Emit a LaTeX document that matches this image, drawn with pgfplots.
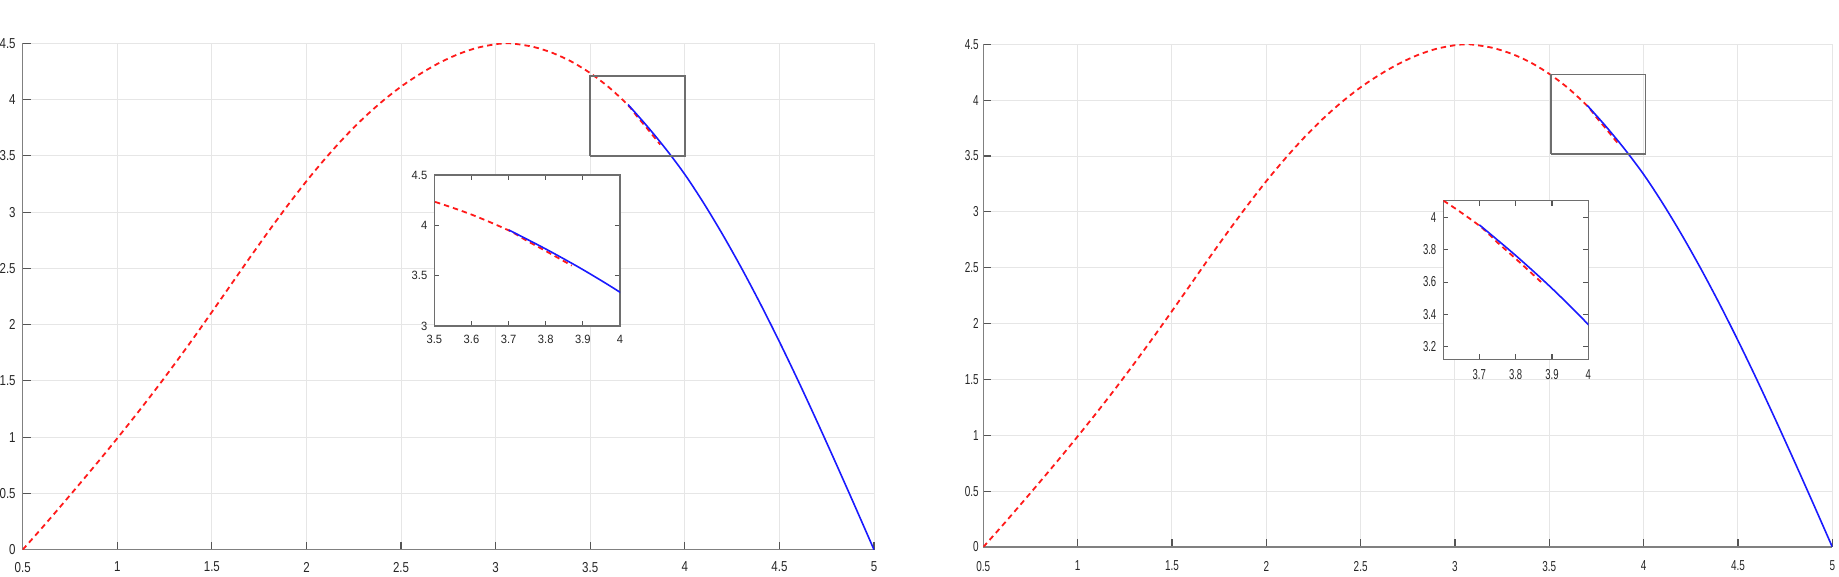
\documentclass[border=0pt]{standalone}
\usepackage{fontspec}
\setmainfont{Liberation Sans}
\newfontfamily\fMainL{Liberation Sans}[FakeStretch=0.8]
\newfontfamily\fInsL{Liberation Sans}[FakeStretch=0.93]
\newfontfamily\fMainR{Liberation Sans}[FakeStretch=0.69]
\newfontfamily\fInsR{Liberation Sans}[FakeStretch=0.66]
\usepackage{pgfplots}
\pgfplotsset{compat=1.18}
\usepackage{pgfplotstable}

\definecolor{cGrid}{HTML}{E6E6E6}
\definecolor{cAxis}{HTML}{808080}
\definecolor{cTick}{HTML}{555555}
\definecolor{cLab}{HTML}{262626}
\definecolor{cBox}{HTML}{6E6E6E}
\definecolor{cRed}{HTML}{FF1A1A}
\definecolor{cBlue}{HTML}{1A1AFF}

% dashed part of the curve
\pgfplotstableread{
x y
0.5 0
0.6 0.19
0.7 0.385
0.8 0.583
0.9 0.784
1.0 0.99
1.1 1.201
1.2 1.418
1.3 1.643
1.4 1.874
1.5 2.112
1.6 2.353
1.7 2.594
1.8 2.830
1.9 3.058
2.0 3.275
2.1 3.477
2.2 3.664
2.3 3.833
2.4 3.983
2.5 4.115
2.6 4.227
2.7 4.324
2.8 4.402
2.9 4.459
3.0 4.492
3.06 4.50
3.1 4.496
3.2 4.468
3.3 4.415
3.4 4.338
3.5 4.235
3.6 4.107
3.7 3.95
3.75 3.845
3.8 3.745
3.87 3.60
}\redtab

% solid part of the curve
\pgfplotstableread{
x y
3.7 3.955
3.8 3.765
3.9 3.56
4.0 3.335
4.1 3.079
4.2 2.800
4.3 2.501
4.4 2.183
4.5 1.848
4.6 1.498
4.7 1.135
4.8 0.763
4.9 0.384
5.0 0
}\bluetab

\pgfplotsset{
  mainax/.style={
    scale only axis, anchor=south west,
    xmin=0.5, xmax=5, ymin=0, ymax=4.5,
    xtick={0.5,1,...,5}, ytick={0,0.5,...,4.5},
    axis x line*=bottom, axis y line*=left,
    axis line style={cAxis, line width=0.6pt},
    tick align=inside, major tick length=4pt,
    tick style={cTick, line width=0.6pt},
    grid=major, major grid style={cGrid, line width=0.5pt},
    /pgf/number format/assume math mode=true,
    tick label style={text=cLab},
  },
  insax/.style={
    scale only axis, anchor=south west,
    axis line style={cBox, line width=0.7pt},
    tick align=inside, major tick length=2.5pt,
    tick style={cTick, line width=0.5pt},
    axis background/.style={fill=white},
    /pgf/number format/assume math mode=true,
    tick label style={text=cLab},
  },
  rline/.style={cRed, line width=0.9pt, dash pattern=on 2.7pt off 2pt, smooth, tension=0.5, no marks},
  bline/.style={cBlue, line width=0.8pt, smooth, tension=0.5, no marks},
  zbox/.style={cBox, line width=0.75pt, no marks, sharp plot},
}

\begin{document}
\begin{tikzpicture}
\path[use as bounding box] (0,0) rectangle (919.5pt,288.5pt);

% left main
\begin{axis}[mainax, at={(11.35pt,13.65pt)}, width=425.65pt, height=253.2pt,
  tick label style={font=\fMainL\fontsize{7.2}{8}\selectfont},
  xticklabel style={yshift=-2.6pt}]
  \addplot[rline] table[x=x,y=y]{\redtab};
  \addplot[bline] table[x=x,y=y]{\bluetab};
  \addplot[zbox] coordinates {(3.5,3.5) (4,3.5) (4,4.21) (3.5,4.21) (3.5,3.5)};
\end{axis}

% left inset
\begin{axis}[insax, at={(217.15pt,125.5pt)}, width=92.85pt, height=75.5pt,
  xmin=3.5, xmax=4, ymin=3, ymax=4.5,
  xtick={3.5,3.6,3.7,3.8,3.9,4}, ytick={3,3.5,4,4.5},
  tick label style={font=\fInsL\fontsize{6}{7}\selectfont},
  xticklabel style={yshift=-1pt}]
  \addplot[rline] table[x=x,y=y]{\redtab};
  \addplot[bline] table[x=x,y=y]{\bluetab};
\end{axis}

% right main
\begin{axis}[mainax, at={(491.65pt,15pt)}, width=424.5pt, height=251.35pt,
  tick label style={font=\fMainR\fontsize{7.2}{8}\selectfont},
  xticklabel style={yshift=-3.5pt},
  yticklabel style={xshift=1.2pt}]
  \addplot[rline] table[x=x,y=y]{\redtab};
  \addplot[bline] table[x=x,y=y]{\bluetab};
  \addplot[zbox] coordinates {(3.51,3.52) (4.01,3.52) (4.01,4.23) (3.51,4.23) (3.51,3.52)};
\end{axis}

% right inset
\begin{axis}[insax, at={(721.65pt,108.85pt)}, width=72.5pt, height=79.3pt,
  xmin=3.601, xmax=4, ymin=3.12, ymax=4.105,
  xtick={3.7,3.8,3.9,4}, ytick={3.2,3.4,3.6,3.8,4},
  tick label style={font=\fInsR\fontsize{7.2}{8}\selectfont},
  xticklabel style={yshift=-1.5pt}]
  \addplot[rline] table[x=x,y=y]{\redtab};
  \addplot[bline] table[x=x,y=y]{\bluetab};
\end{axis}
\end{tikzpicture}
\end{document}
